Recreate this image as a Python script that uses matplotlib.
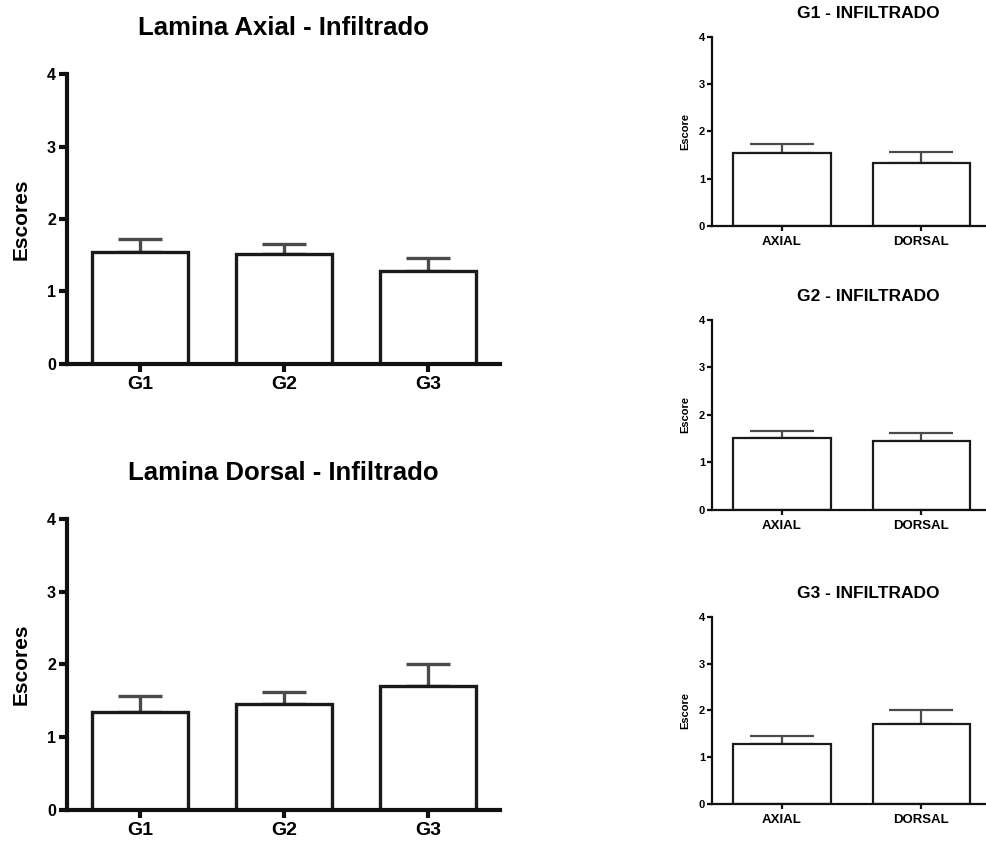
import matplotlib.pyplot as plt

# Donnees (moyenne et haut de la barre d'erreur)
grupos = ["G1", "G2", "G3"]
axial_media = [1.55, 1.52, 1.28]
axial_topo = [1.73, 1.66, 1.46]
dorsal_media = [1.34, 1.46, 1.71]
dorsal_topo = [1.57, 1.62, 2.00]

laminas = ["AXIAL", "DORSAL"]
yticks = [0, 1, 2, 3, 4]

plt.rcParams['font.family'] = ['Liberation Sans', 'DejaVu Sans']
plt.rcParams['font.weight'] = 'bold'

fig = plt.figure(figsize=(9.87, 8.41), dpi=100)


def painel(ax, cats, medias, topos, titulo, ylabel, grande=True):
    lw_ax = 3 if grande else 1.6
    lw_bar = 2.4 if grande else 1.6
    largura = 0.667 if grande else 0.7
    x = list(range(len(cats)))
    ax.bar(x, medias, width=largura, color="white", edgecolor="#1a1a1a",
           linewidth=lw_bar, zorder=2)
    # seulement la partie haute de l'erreur, la barre cache le bas
    sup = [t - m for t, m in zip(topos, medias)]
    ax.errorbar(x, medias, yerr=[[0] * len(x), sup], fmt="none",
                ecolor="#4a4a4a", elinewidth=lw_bar,
                capsize=16 if grande else 23, capthick=lw_bar, zorder=1)
    ax.set_ylim(0, 4)
    ax.set_yticks(yticks)
    ax.set_xticks(x)
    ax.set_xticklabels(cats)
    if grande:
        ax.set_xlim(-0.507, 2.5)
        fs_x, fs_y, fs_lab, fs_tit = 14, 11.5, 15, 18.5
        x_tit = 0.5
    else:
        # l'axe continue au-dela du bord de l'image
        ax.set_xlim(-0.5, 1.47)
        fs_x, fs_y, fs_lab, fs_tit = 9.5, 8, 8, 12.5
        x_tit = 0.567
    for s in ["top", "right"]:
        ax.spines[s].set_visible(False)
    for s in ["left", "bottom"]:
        ax.spines[s].set_linewidth(lw_ax)
        ax.spines[s].set_color("#111111")
    ax.tick_params(axis="both", width=lw_ax, color="#111111",
                   length=6 if grande else 3.5, pad=2 if grande else 1.5)
    ax.tick_params(axis="x", labelsize=fs_x, pad=3 if grande else 4)
    ax.tick_params(axis="y", labelsize=fs_y)
    ax.set_ylabel(ylabel, fontsize=fs_lab, fontweight="bold",
                  labelpad=12 if grande else 6)
    ax.set_title(titulo, fontsize=fs_tit, fontweight="bold", x=x_tit,
                 pad=28 if grande else 14)


# Painel esquerdo - superior e inferior
ax1 = fig.add_axes([0.0679, 0.5672, 0.4387, 0.3448])
painel(ax1, grupos, axial_media, axial_topo, "Lamina Axial - Infiltrado", "Escores")
ax2 = fig.add_axes([0.0679, 0.0369, 0.4387, 0.346])
painel(ax2, grupos, dorsal_media, dorsal_topo, "Lamina Dorsal - Infiltrado", "Escores")

# Paineis da direita, um por grupo
pos_dir = [[0.7214, 0.7313, 0.2786, 0.2247],
           [0.7214, 0.3936, 0.2786, 0.2259],
           [0.7214, 0.0440, 0.2786, 0.2224]]
for i, g in enumerate(grupos):
    ax = fig.add_axes(pos_dir[i])
    painel(ax, laminas, [axial_media[i], dorsal_media[i]],
           [axial_topo[i], dorsal_topo[i]], g + " - INFILTRADO", "Escore",
           grande=False)

plt.savefig("out.png", dpi=100)
